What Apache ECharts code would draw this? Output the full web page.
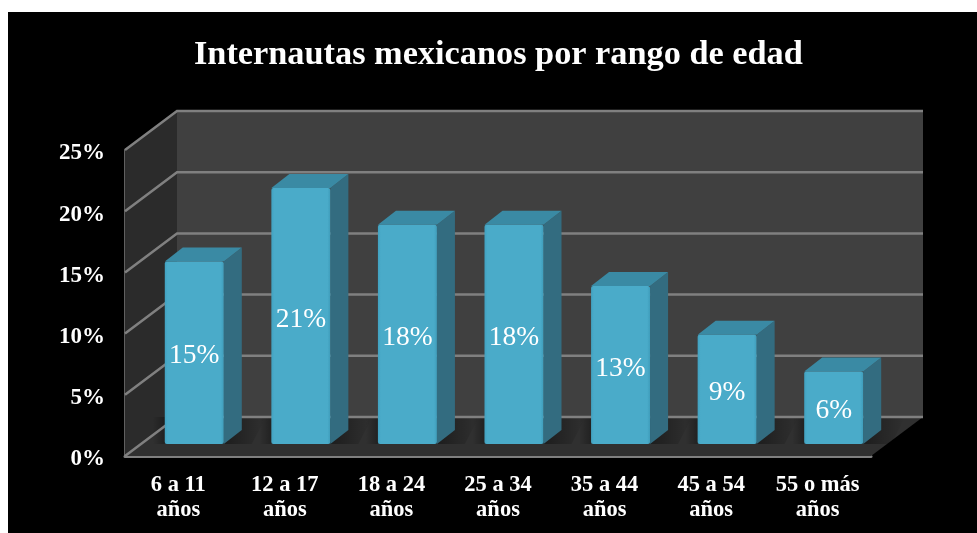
<!DOCTYPE html>
<html>
<head>
    <meta charset="utf-8">
    <script src="https://cdn.jsdelivr.net/npm/echarts@6/dist/echarts.min.js"></script>
    <style>
        body { margin: 0; background: #fff; overflow: hidden; }
        #main { position: absolute; left: 8px; top: 12px; width: 969px; height: 521px; }
    </style>
</head>

<body>
    <div id="main"></div>
    <script type="text/javascript">
        var categories = ['6 a 11\naños', '12 a 17\naños', '18 a 24\naños', '25 a 34\naños', '35 a 44\naños', '45 a 54\naños', '55 o más\naños'];
        var values = [15, 21, 18, 18, 13, 9, 6];
        var yTicks = [0, 5, 10, 15, 20, 25];

        var FONT = '"Liberation Serif", serif';
        // 3D look: how far the back wall and the bars are pushed
        var WALL_DX = 52, WALL_DY = -39;
        var BAR_X = 16, BAR_Y = -12, BAR_W = 59, BAR_DX = 18, BAR_DY = -14;
        var LINE = '#808080';

        function poly(points, fill, extra) {
            var style = { fill: fill };
            for (var k in extra) style[k] = extra[k];
            return { type: 'polygon', shape: { points: points }, style: style, silent: true };
        }

        function fade(from, to) {
            return new echarts.graphic.LinearGradient(0, 0, 1, 0, [
                { offset: 0, color: from },
                { offset: 1, color: to }
            ]);
        }

        function renderWalls(params, api) {
            var r = params.coordSys;
            var l = r.x, b = r.y + r.height, t = r.y, e = r.x + r.width;
            return {
                type: 'group',
                children: [
                    poly([[l, b], [l + WALL_DX, b + WALL_DY], [l + WALL_DX, t + WALL_DY], [l, t]], '#2b2b2b'),
                    poly([[l + WALL_DX, b + WALL_DY], [e + WALL_DX, b + WALL_DY], [e + WALL_DX, t + WALL_DY], [l + WALL_DX, t + WALL_DY]], '#404040'),
                    poly([[l, b], [e, b], [e + WALL_DX, b + WALL_DY], [l + WALL_DX, b + WALL_DY]], '#303030')
                ]
            };
        }

        function renderGrid(params, api) {
            var r = params.coordSys;
            var y = api.coord([0, api.value(0)])[1];
            return {
                type: 'polyline',
                shape: { points: [[r.x, y], [r.x + WALL_DX, y + WALL_DY], [r.x + r.width + WALL_DX, y + WALL_DY]] },
                style: { stroke: LINE, lineWidth: 2.5, fill: null },
                silent: true
            };
        }

        // floor shadows go under the grid lines and the bars
        function renderShadow(params, api) {
            var p = api.coord([api.value(0), 0]);
            var x0 = p[0] + BAR_X - BAR_W / 2, x1 = x0 + BAR_W;
            var yb = p[1] + BAR_Y, back = p[1] + WALL_DY;
            return {
                type: 'group',
                children: [
                    poly([[x1, back], [x1 + BAR_DX + 24, back], [x1 + BAR_DX + 10, yb], [x1, yb]], fade('rgba(0,0,0,0.4)', 'rgba(0,0,0,0)')),
                    poly([[x0 - 12, back], [x0, back], [x0, yb], [x0 - 12, yb]], fade('rgba(0,0,0,0)', 'rgba(0,0,0,0.3)'))
                ]
            };
        }

        function renderBar(params, api) {
            var p = api.coord([api.value(0), api.value(1)]);
            var x0 = p[0] + BAR_X - BAR_W / 2, x1 = x0 + BAR_W;
            var yt = p[1] + BAR_Y + 1;
            var yb = api.coord([api.value(0), 0])[1] + BAR_Y;
            return {
                type: 'group',
                children: [
                    poly([[x1, yt], [x1 + BAR_DX, yt + BAR_DY], [x1 + BAR_DX, yb + BAR_DY], [x1, yb]], '#336c80'),
                    poly([[x0, yt], [x0 + BAR_DX, yt + BAR_DY], [x1 + BAR_DX, yt + BAR_DY], [x1, yt]], '#3a8aa4'),
                    {
                        type: 'rect',
                        shape: { x: x0, y: yt, width: BAR_W, height: yb - yt, r: 2 },
                        style: { fill: new echarts.graphic.LinearGradient(0, 0, 1, 0, [
                            { offset: 0, color: '#41a2c1' },
                            { offset: 0.05, color: '#4aabc9' },
                            { offset: 0.95, color: '#4aabc9' },
                            { offset: 1, color: '#3f9dbb' }
                        ]) },
                        silent: true
                    },
                    {
                        type: 'text',
                        style: {
                            x: (x0 + x1) / 2, y: (yt + yb) / 2 + 3.5,
                            text: api.value(1) + '%',
                            fill: '#fff',
                            font: '27.5px ' + FONT,
                            align: 'center', verticalAlign: 'middle'
                        },
                        silent: true
                    }
                ]
            };
        }

        var option = {
            animation: false,
            backgroundColor: '#000',
            title: {
                text: 'Internautas mexicanos por rango de edad',
                left: 181,
                top: 21,
                textStyle: { color: '#fff', fontFamily: FONT, fontWeight: 'bold', fontSize: 34.3 }
            },
            grid: { left: 117, top: 138, width: 746, height: 306 },
            xAxis: {
                type: 'category',
                data: categories,
                axisLine: { lineStyle: { color: LINE, width: 3 } },
                axisTick: { show: false },
                axisLabel: {
                    interval: 0, margin: 17, lineHeight: 25,
                    color: '#fff', fontFamily: FONT, fontWeight: 'bold', fontSize: 22.5
                }
            },
            yAxis: {
                type: 'value',
                min: 0,
                max: 25,
                interval: 5,
                splitLine: { show: false },
                axisLine: { show: true, lineStyle: { color: LINE, width: 2.5 } },
                axisTick: { show: false },
                axisLabel: {
                    formatter: '{value}%', margin: 20,
                    color: '#fff', fontFamily: FONT, fontWeight: 'bold', fontSize: 23,
                    verticalAlign: 'top', lineHeight: 7
                }
            },
            series: [
                { type: 'custom', z: 1, renderItem: renderWalls, data: [[0]], silent: true },
                { type: 'custom', z: 2, renderItem: renderShadow, encode: { x: 0 }, data: values.map(function (v, i) { return [i]; }), silent: true },
                { type: 'custom', z: 3, renderItem: renderGrid, encode: { x: -1, y: 0 }, data: yTicks.map(function (t) { return [t]; }), silent: true },
                { type: 'custom', z: 4, renderItem: renderBar, encode: { x: 0, y: 1 }, data: values.map(function (v, i) { return [i, v]; }), silent: true }
            ]
        };

        var myChart = echarts.init(document.getElementById('main'));
        myChart.setOption(option);
    </script>
</body>

</html>
